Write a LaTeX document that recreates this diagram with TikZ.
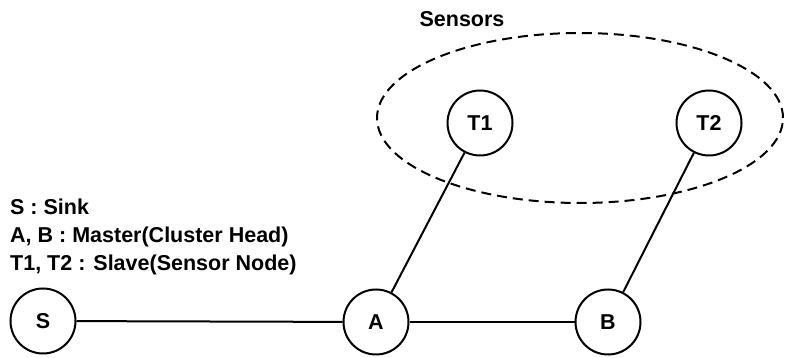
\documentclass[tikz,border=0pt]{standalone}
\usepackage{fontspec}
\setmainfont{Liberation Sans}
\begin{document}
\begin{tikzpicture}[x=1pt, y=1pt,
    mote/.style={circle, draw, line width=2pt, minimum size=65pt, inner sep=0pt, font=\fontsize{21.5}{26}\selectfont\bfseries},
    txt/.style={inner sep=0pt, font=\fontsize{21.5}{26}\selectfont\bfseries}]
    \useasboundingbox (0,0) rectangle (786,358);
    % cluster of slave sensors
    \draw[line width=2pt, dash pattern=on 10pt off 6pt] (580,240) ellipse (203 and 85);
    \node[txt, anchor=base] (sensors) at (462,331) {Sensors};
    % nodes
    \node[mote] (S) at (43,37) {S};
    \node[mote] (A) at (376,36) {A};
    \node[mote] (B) at (608,36) {B};
    \node[mote] (T1) at (480,235) {T1};
    \node[mote] (T2) at (709,235) {T2};
    % links
    \draw[line width=2pt] (S) -- (A);
    \draw[line width=2pt] (A) -- (B);
    \draw[line width=2pt] (A) -- (T1);
    \draw[line width=2pt] (B) -- (T2);
    % legend
    \node[txt, anchor=base west] (key1) at (10,143) {S : Sink};
    \node[txt, anchor=base west] (key2) at (10,115) {A, B : Master(Cluster Head)};
    \node[txt, anchor=base west] (key3) at (10,87) {T1, T2 : Slave(Sensor Node)};
\end{tikzpicture}
\end{document}
